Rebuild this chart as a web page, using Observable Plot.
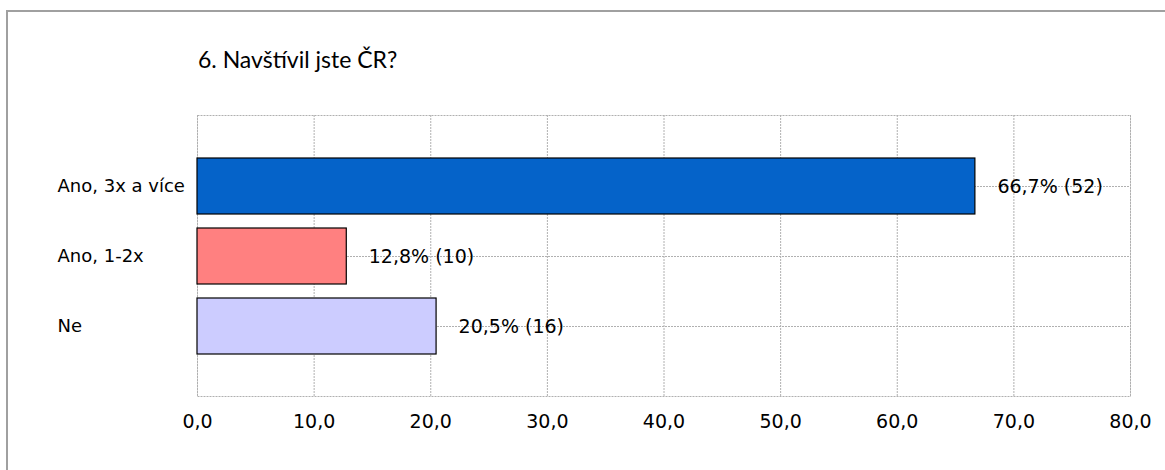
<!DOCTYPE html>
<html>
<head>
<meta charset="utf-8">
<script src="https://cdn.jsdelivr.net/npm/d3@7"></script>
<script src="https://cdn.jsdelivr.net/npm/@observablehq/plot@0.6"></script>
<style>
  html, body { margin: 0; padding: 0; background: #fff; }
  #chart { position: relative; width: 1165px; height: 470px; overflow: hidden; background: #fff; }
  #chart .border { position: absolute; left: 6px; top: 10px; width: 1300px; height: 600px; border: 2px solid #a0a0a0; box-sizing: border-box; }
  #chart .title { position: absolute; left: 198px; top: 48px; font-family: Lato, "Open Sans", sans-serif; font-size: 23px; line-height: 1; color: #000; white-space: nowrap; }
  #chart svg { position: absolute; left: 0; top: 0; }
</style>
</head>
<body>
<div id="chart">
  <div class="border"></div>
  <div class="title">6. Navštívil jste ČR?</div>
</div>
<script>
// Survey answers: share of respondents (%) and absolute counts
const categories = ["Ano, 3x a více", "Ano, 1-2x", "Ne"];
const percents = [66.7, 12.8, 20.5];
const counts = [52, 10, 16];
const barColors = ["#0563c9", "#ff8080", "#ccccff"];
const xTicks = [0, 10, 20, 30, 40, 50, 60, 70, 80];

const rows = categories.map((c, i) => ({
  category: c,
  percent: percents[i],
  count: counts[i],
  color: barColors[i]
}));

const comma = v => v.toFixed(1).replace(".", ",");
const gridStyle = {stroke: "#b0b0b0", strokeWidth: 1, strokeDasharray: "2,1"};

const chart = Plot.plot({
  width: 1165,
  height: 470,
  marginLeft: 197,
  marginRight: 35,
  marginTop: 115,
  marginBottom: 74,
  style: {fontFamily: "'DejaVu Sans', sans-serif", fontSize: "19px", color: "#000", background: "transparent"},
  x: {domain: [0, 80], ticks: xTicks, tickFormat: comma, tickSize: 0, tickPadding: 18, label: null},
  y: {domain: categories, paddingInner: 0.2, paddingOuter: 0.6, axis: null},
  color: {type: "identity"},
  marks: [
    Plot.ruleX(xTicks, gridStyle),
    Plot.ruleY(categories, gridStyle),
    Plot.frame(gridStyle),
    Plot.barX(rows, {x: "percent", y: "category", fill: "color", stroke: "#000", strokeWidth: 1.2}),
    // category names, left-aligned in the left margin
    Plot.text(categories, {
      y: d => d,
      frameAnchor: "left",
      textAnchor: "start",
      dx: -140,
      fill: "#000",
      fontSize: 18
    }),
    Plot.text(rows, {
      x: "percent",
      y: "category",
      text: d => `${comma(d.percent)}% (${d.count})`,
      textAnchor: "start",
      dx: 22,
      fill: "#000",
      fontSize: 19
    })
  ]
});

document.getElementById("chart").appendChild(chart);
</script>
</body>
</html>
